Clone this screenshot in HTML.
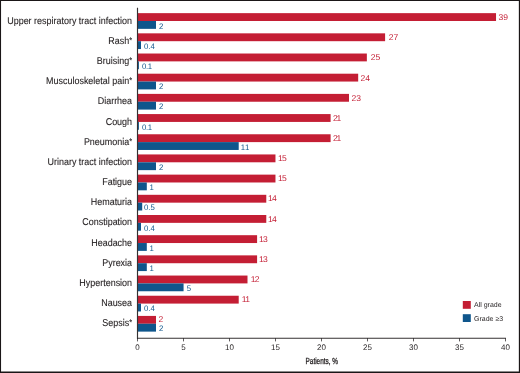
<!DOCTYPE html>
<html><head><meta charset="utf-8"><title>Adverse events</title>
<style>
html,body{margin:0;padding:0;background:#fff;}
body{width:520px;height:373px;overflow:hidden;}
svg{display:block;will-change:transform;}
text{font-family:"Liberation Sans",Arial,Helvetica,sans-serif;text-rendering:geometricPrecision;}
.c{font-size:9.9px;fill:#231F20;text-anchor:end;stroke:#231F20;stroke-width:0.1px;}
.v{font-size:8.4px;}
.w,.w11,.w01{font-size:8.0px;}
.w01{letter-spacing:-0.35px;}
.w11{letter-spacing:0.6px;}
.t{font-size:8.1px;fill:#231F20;text-anchor:middle;}
.l{font-size:7px;fill:#231F20;}
.x{font-size:8.9px;fill:#231F20;text-anchor:middle;stroke:#231F20;stroke-width:0.3px;}
</style></head><body>
<svg width="520" height="373" viewBox="0 0 520 373">
<rect x="0" y="0" width="520" height="373" fill="#fff"/>
<path d="M0 0H520V373H0Z M1.05 0.95V371.55H518.85V0.95Z" fill="#1a1617" fill-rule="evenodd"/>
<rect x="137.9" y="13.15" width="358.13" height="7.85" fill="#C41E34"/>
<rect x="137.9" y="21.00" width="18.10" height="7.85" fill="#0F568C"/>
<text class="c" transform="translate(132.05,23.80) scale(0.906,1)">Upper respiratory tract infection</text>
<text class="v" fill="#C41E34" transform="translate(498.43,20.05) scale(1.020,1)">39</text>
<text class="w" fill="#0F568C" transform="translate(159.10,28.70) scale(0.975,1)">2</text>
<rect x="137.9" y="33.34" width="247.20" height="7.85" fill="#C41E34"/>
<rect x="137.9" y="41.19" width="3.10" height="7.85" fill="#0F568C"/>
<text class="c" transform="translate(132.05,43.96) scale(0.906,1)">Rash<tspan font-size="8.2" dy="-1.1">*</tspan></text>
<text class="v" fill="#C41E34" transform="translate(388.80,40.20) scale(1.020,1)">27</text>
<text class="w" fill="#0F568C" transform="translate(144.10,48.89) scale(0.975,1)">0.4</text>
<rect x="137.9" y="53.52" width="228.95" height="7.85" fill="#C41E34"/>
<rect x="137.9" y="61.37" width="1.00" height="7.85" fill="#0F568C"/>
<text class="c" transform="translate(132.05,64.11) scale(0.906,1)">Bruising<tspan font-size="8.2" dy="-1.1">*</tspan></text>
<text class="v" fill="#C41E34" transform="translate(370.77,60.35) scale(1.020,1)">25</text>
<text class="w01" fill="#0F568C" transform="translate(142.00,69.07) scale(0.975,1)">0.1</text>
<rect x="137.9" y="73.70" width="220.28" height="7.85" fill="#C41E34"/>
<rect x="137.9" y="81.55" width="18.10" height="7.85" fill="#0F568C"/>
<text class="c" transform="translate(132.05,84.27) scale(0.906,1)">Musculoskeletal pain<tspan font-size="8.2" dy="-1.1">*</tspan></text>
<text class="v" fill="#C41E34" transform="translate(360.58,80.50) scale(1.020,1)">24</text>
<text class="w" fill="#0F568C" transform="translate(159.10,89.25) scale(0.975,1)">2</text>
<rect x="137.9" y="93.89" width="211.09" height="7.85" fill="#C41E34"/>
<rect x="137.9" y="101.74" width="18.10" height="7.85" fill="#0F568C"/>
<text class="c" transform="translate(132.05,104.43) scale(0.906,1)">Diarrhea</text>
<text class="v" fill="#C41E34" transform="translate(351.59,100.65) scale(1.020,1)">23</text>
<text class="w" fill="#0F568C" transform="translate(159.10,109.44) scale(0.975,1)">2</text>
<rect x="137.9" y="114.08" width="192.71" height="7.85" fill="#C41E34"/>
<rect x="137.9" y="121.92" width="1.00" height="7.85" fill="#0F568C"/>
<text class="c" transform="translate(132.05,124.58) scale(0.906,1)">Cough</text>
<text class="v" fill="#C41E34" style="letter-spacing:-1.20px" transform="translate(333.01,120.80) scale(1.020,1)">21</text>
<text class="w01" fill="#0F568C" transform="translate(142.00,129.62) scale(0.975,1)">0.1</text>
<rect x="137.9" y="134.26" width="192.71" height="7.85" fill="#C41E34"/>
<rect x="137.9" y="142.11" width="100.81" height="7.85" fill="#0F568C"/>
<text class="c" transform="translate(132.05,144.74) scale(0.906,1)">Pneumonia<tspan font-size="8.2" dy="-1.1">*</tspan></text>
<text class="v" fill="#C41E34" style="letter-spacing:-1.20px" transform="translate(333.01,140.95) scale(1.020,1)">21</text>
<text class="w11" fill="#0F568C" transform="translate(240.71,149.81) scale(0.975,1)">11</text>
<rect x="137.9" y="154.44" width="137.57" height="7.85" fill="#C41E34"/>
<rect x="137.9" y="162.29" width="18.10" height="7.85" fill="#0F568C"/>
<text class="c" transform="translate(132.05,164.90) scale(0.906,1)">Urinary tract infection</text>
<text class="v" fill="#C41E34" style="letter-spacing:-0.70px" transform="translate(278.07,161.10) scale(1.020,1)">15</text>
<text class="w" fill="#0F568C" transform="translate(159.10,170.00) scale(0.975,1)">2</text>
<rect x="137.9" y="174.63" width="137.57" height="7.85" fill="#C41E34"/>
<rect x="137.9" y="182.48" width="8.91" height="7.85" fill="#0F568C"/>
<text class="c" transform="translate(132.05,185.06) scale(0.906,1)">Fatigue</text>
<text class="v" fill="#C41E34" style="letter-spacing:-0.70px" transform="translate(278.07,181.25) scale(1.020,1)">15</text>
<text class="w" fill="#0F568C" transform="translate(149.51,190.18) scale(0.975,1)">1</text>
<rect x="137.9" y="194.81" width="128.38" height="7.85" fill="#C41E34"/>
<rect x="137.9" y="202.66" width="4.31" height="7.85" fill="#0F568C"/>
<text class="c" transform="translate(132.05,205.21) scale(0.906,1)">Hematuria</text>
<text class="v" fill="#C41E34" style="letter-spacing:-0.70px" transform="translate(267.98,201.40) scale(1.020,1)">14</text>
<text class="w" fill="#0F568C" transform="translate(143.91,210.37) scale(0.975,1)">0.5</text>
<rect x="137.9" y="215.00" width="128.38" height="7.85" fill="#C41E34"/>
<rect x="137.9" y="222.85" width="3.10" height="7.85" fill="#0F568C"/>
<text class="c" transform="translate(132.05,225.37) scale(0.906,1)">Constipation</text>
<text class="v" fill="#C41E34" style="letter-spacing:-0.70px" transform="translate(267.98,221.55) scale(1.020,1)">14</text>
<text class="w" fill="#0F568C" transform="translate(144.10,230.55) scale(0.975,1)">0.4</text>
<rect x="137.9" y="235.19" width="119.19" height="7.85" fill="#C41E34"/>
<rect x="137.9" y="243.03" width="8.91" height="7.85" fill="#0F568C"/>
<text class="c" transform="translate(132.05,245.53) scale(0.906,1)">Headache</text>
<text class="v" fill="#C41E34" style="letter-spacing:-0.80px" transform="translate(259.09,241.70) scale(1.020,1)">13</text>
<text class="w" fill="#0F568C" transform="translate(149.51,250.74) scale(0.975,1)">1</text>
<rect x="137.9" y="255.37" width="119.19" height="7.85" fill="#C41E34"/>
<rect x="137.9" y="263.22" width="8.91" height="7.85" fill="#0F568C"/>
<text class="c" transform="translate(132.05,265.68) scale(0.906,1)">Pyrexia</text>
<text class="v" fill="#C41E34" style="letter-spacing:-0.80px" transform="translate(259.09,261.85) scale(1.020,1)">13</text>
<text class="w" fill="#0F568C" transform="translate(149.51,270.92) scale(0.975,1)">1</text>
<rect x="137.9" y="275.55" width="109.60" height="7.85" fill="#C41E34"/>
<rect x="137.9" y="283.40" width="45.67" height="7.85" fill="#0F568C"/>
<text class="c" transform="translate(132.05,285.84) scale(0.906,1)">Hypertension</text>
<text class="v" fill="#C41E34" style="letter-spacing:-0.60px" transform="translate(250.70,282.00) scale(1.020,1)">12</text>
<text class="w" fill="#0F568C" transform="translate(186.67,291.10) scale(0.975,1)">5</text>
<rect x="137.9" y="295.74" width="100.81" height="7.85" fill="#C41E34"/>
<rect x="137.9" y="303.59" width="3.10" height="7.85" fill="#0F568C"/>
<text class="c" transform="translate(132.05,306.00) scale(0.906,1)">Nausea</text>
<text class="v" fill="#C41E34" style="letter-spacing:-0.60px" transform="translate(241.71,302.15) scale(1.020,1)">11</text>
<text class="w" fill="#0F568C" transform="translate(144.10,311.29) scale(0.975,1)">0.4</text>
<rect x="137.9" y="315.92" width="18.10" height="7.85" fill="#C41E34"/>
<rect x="137.9" y="323.77" width="18.10" height="7.85" fill="#0F568C"/>
<text class="c" transform="translate(132.05,326.16) scale(0.906,1)">Sepsis<tspan font-size="8.2" dy="-1.1">*</tspan></text>
<text class="v" fill="#C41E34" transform="translate(158.60,322.30) scale(1.020,1)">2</text>
<text class="w" fill="#0F568C" transform="translate(159.10,331.47) scale(0.975,1)">2</text>
<line x1="137.50" y1="7.7" x2="137.50" y2="338.70" stroke="#353132" stroke-width="1.15"/>
<line x1="137.05" y1="338.20" x2="505.95" y2="338.20" stroke="#353132" stroke-width="1.1"/>
<line x1="137.50" y1="338.20" x2="137.50" y2="341.40" stroke="#1a1617" stroke-width="0.7"/>
<text class="t" transform="translate(137.50,350.40) scale(0.985,1)">0</text>
<line x1="183.50" y1="338.20" x2="183.50" y2="341.40" stroke="#1a1617" stroke-width="0.7"/>
<text class="t" transform="translate(183.50,350.40) scale(0.985,1)">5</text>
<line x1="229.50" y1="338.20" x2="229.50" y2="341.40" stroke="#1a1617" stroke-width="0.7"/>
<text class="t" transform="translate(229.50,350.40) scale(0.985,1)">10</text>
<line x1="275.50" y1="338.20" x2="275.50" y2="341.40" stroke="#1a1617" stroke-width="0.7"/>
<text class="t" transform="translate(275.50,350.40) scale(0.985,1)">15</text>
<line x1="321.50" y1="338.20" x2="321.50" y2="341.40" stroke="#1a1617" stroke-width="0.7"/>
<text class="t" transform="translate(321.50,350.40) scale(0.985,1)">20</text>
<line x1="367.50" y1="338.20" x2="367.50" y2="341.40" stroke="#1a1617" stroke-width="0.7"/>
<text class="t" transform="translate(367.50,350.40) scale(0.985,1)">25</text>
<line x1="413.50" y1="338.20" x2="413.50" y2="341.40" stroke="#1a1617" stroke-width="0.7"/>
<text class="t" transform="translate(413.50,350.40) scale(0.985,1)">30</text>
<line x1="459.50" y1="338.20" x2="459.50" y2="341.40" stroke="#1a1617" stroke-width="0.7"/>
<text class="t" transform="translate(459.50,350.40) scale(0.985,1)">35</text>
<line x1="505.50" y1="338.20" x2="505.50" y2="341.40" stroke="#1a1617" stroke-width="0.7"/>
<text class="t" transform="translate(505.50,350.40) scale(0.985,1)">40</text>
<text class="x" transform="translate(321.80,364.40) scale(0.725,1)">Patients, %</text>
<rect x="462.8" y="301" width="8" height="7.8" fill="#C41E34"/>
<rect x="462.8" y="314.2" width="8" height="7.8" fill="#0F568C"/>
<text class="l" transform="translate(474.00,307.40) scale(1.000,1)">All grade</text>
<text class="l" transform="translate(474.00,320.60) scale(1.000,1)">Grade ≥3</text>
</svg>
</body></html>
